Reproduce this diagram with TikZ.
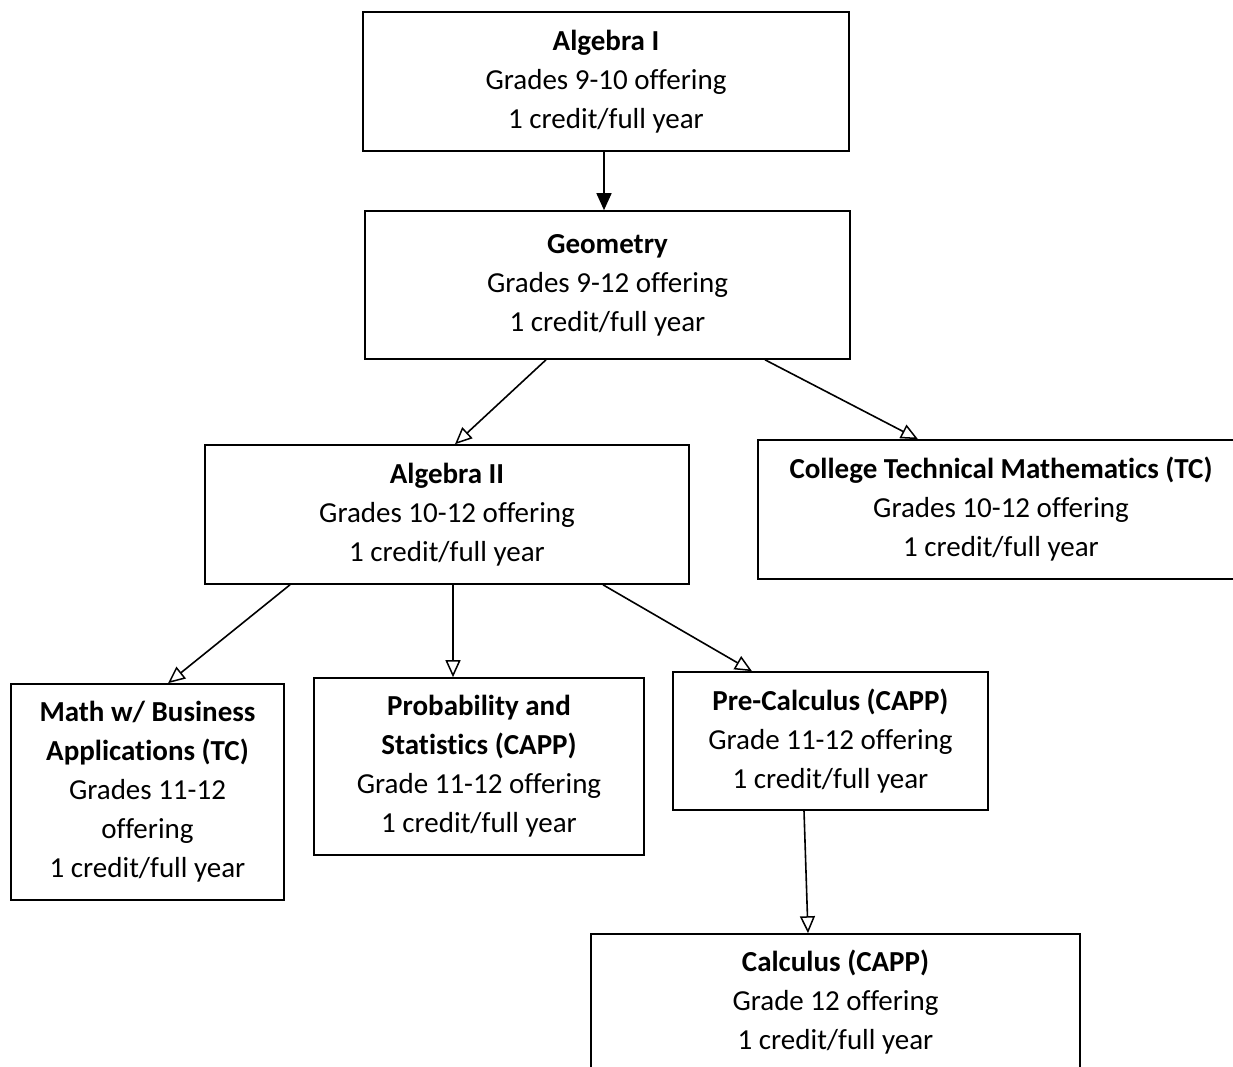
\documentclass[tikz,border=0pt]{standalone}
\usepackage{fontspec}
\setmainfont{Carlito}[Ligatures=NoCommon]
\usetikzlibrary{arrows.meta, calc}

\tikzset{
	course/.style = {draw, line width=1.6pt, inner sep=0pt, align=center, font=\fontsize{29}{39}\selectfont},
	flow/.style = {line width=1.6pt, -{Triangle[open, length=17pt, width=15pt, line width=1.5pt]}},
}

\begin{document}
\begin{tikzpicture}[x=1pt, y=-1pt]
			\def\W{1233};
			\def\H{1067};

			\fill [white] (0,0) rectangle (\W,\H);
			\useasboundingbox (0,0) rectangle (\W,\H);
			\clip (0,0) rectangle (\W,\H);

			\coordinate (a1) at (606,81.5);
			\coordinate (g) at (607.5,285);
			\coordinate (a2) at (447,514.5);
			\coordinate (tc) at (1001,509.5);
			\coordinate (mb) at (147.5,792);
			\coordinate (ps) at (479,766.5);
			\coordinate (pc) at (830.5,741);
			\coordinate (c) at (835.5,1002);

			\begin{scope}
				\node [course, minimum width=486pt, minimum height=139pt] (alg1) at (a1) {\textbf{Algebra I}\\Grades 9-10 offering\\1 credit/full year};
				\node [course, minimum width=485pt, minimum height=148pt] (geo) at (g) {\textbf{Geometry}\\Grades 9-12 offering\\1 credit/full year};
				\node [course, minimum width=484pt, minimum height=139pt] (alg2) at (a2) {\textbf{Algebra II}\\Grades 10-12 offering\\1 credit/full year};
				\node [course, minimum width=486pt, minimum height=139pt] (ctm) at (tc) {\textbf{College Technical Mathematics (TC)}\\Grades 10-12 offering\\1 credit/full year};
			\end{scope}

			\begin{scope}
				\node [course, minimum width=273pt, minimum height=216pt] (mba) at (mb) {\textbf{Math w/ Business}\\\textbf{Applications (TC)}\\Grades 11-12\\offering\\1 credit/full year};
				\node [course, minimum width=330pt, minimum height=177pt] (pas) at (ps) {\textbf{Probability and}\\\textbf{Statistics (CAPP)}\\Grade 11-12 offering\\1 credit/full year};
				\node [course, minimum width=315pt, minimum height=138pt] (pre) at (pc) {\textbf{Pre-Calculus (CAPP)}\\Grade 11-12 offering\\1 credit/full year};
				\node [course, minimum width=489pt, minimum height=136pt] (calc) at (c) {\textbf{Calculus (CAPP)}\\Grade 12 offering\\1 credit/full year};
			\end{scope}

			\begin{scope}[flow]
				\draw [-{Triangle[length=17pt, width=15pt]}] ([xshift=-2pt]alg1.south) -- ([xshift=-3.5pt]geo.north);
				\draw ([xshift=-61.5pt]geo.south) -- ([xshift=8pt]alg2.north);
				\draw ([xshift=157.5pt]geo.south) -- ([xshift=-83pt]ctm.north);
				\draw ([xshift=-157pt]alg2.south) -- ([xshift=20.5pt]mba.north);
				\draw ([xshift=6pt]alg2.south) -- ([xshift=-26pt]pas.north);
				\draw ([xshift=156pt]alg2.south) -- ([xshift=-78.5pt]pre.north);
				\draw ([xshift=-26.5pt]pre.south) -- ([xshift=-27.5pt]calc.north);
			\end{scope}
		\end{tikzpicture}
\end{document}
